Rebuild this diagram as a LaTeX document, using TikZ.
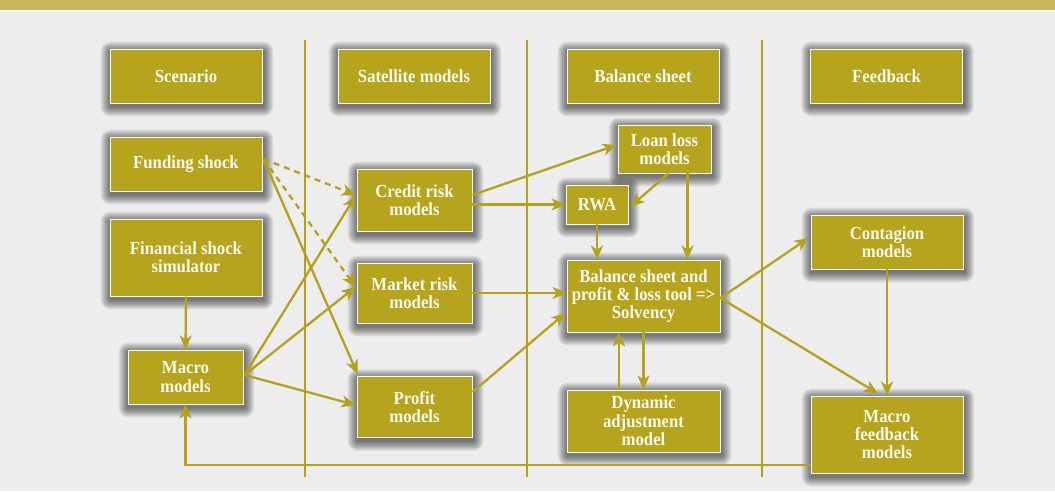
\documentclass[tikz,border=0pt]{standalone}
\usepackage{fontspec}
\setmainfont{Liberation Serif}[FakeStretch=0.91]
\usetikzlibrary{arrows.meta,calc}
\definecolor{gold}{RGB}{182,163,30}
\definecolor{goldline}{RGB}{181,161,32}
\definecolor{topbar}{RGB}{200,182,90}
\definecolor{bg}{RGB}{236,237,236}
\definecolor{txt}{RGB}{252,250,235}
\pgfdeclarelayer{bgl}\pgfdeclarelayer{shad}
\pgfsetlayers{bgl,shad,main}
\newcommand\boxshadow[1]{%
  \begin{pgfonlayer}{shad}
  \foreach \r in {1,...,10}{%
    \fill[black,fill opacity=0.062,rounded corners=\r pt]
      ($(#1.north west)+(1-\r,3-\r)$) rectangle ($(#1.south east)+(1+\r,3+\r)$);}
  \end{pgfonlayer}}
\begin{document}
\begin{tikzpicture}[x=1pt,y=-1pt,
  box/.style={draw=white,line width=0.9pt,fill=gold,inner sep=0pt,
    text=txt,align=center,
    font=\fontsize{18.4}{18.4}\selectfont\bfseries},
  arr/.style={draw=goldline,line width=2.3pt,-{Stealth[length=14pt,width=12pt,inset=4pt]}},
  dasharr/.style={arr,dash pattern=on 6pt off 5pt},
  sep/.style={draw=goldline,line width=2.3pt}]
\useasboundingbox (0,0) rectangle (1055,491);
\begin{pgfonlayer}{bgl}
\fill[bg] (0,0) rectangle (1055,491);
\fill[topbar] (0,0) rectangle (1055,10);
\fill[white] (0,10) rectangle (1055,12);
\end{pgfonlayer}
% separators
\coordinate (s1t) at (305,40); \coordinate (s1b) at (305,477);
\coordinate (s2t) at (527,40); \coordinate (s2b) at (527,477);
\coordinate (s3t) at (762,40); \coordinate (s3b) at (762,477);
\draw[sep] (s1t) -- (s1b);
\draw[sep] (s2t) -- (s2b);
\draw[sep] (s3t) -- (s3b);
% nodes
\node[box,minimum width=152pt,minimum height=54pt] (scen) at (186,76) {Scenario};
\node[box,minimum width=152pt,minimum height=54pt] (sat) at (414,76) {Satellite models};
\node[box,minimum width=152pt,minimum height=54pt] (bs) at (643,76) {Balance sheet};
\node[box,minimum width=152pt,minimum height=54pt] (fb) at (886.5,76) {Feedback};
\node[box,minimum width=152pt,minimum height=54pt] (fund) at (186,164) {Funding shock};
\node[box,minimum width=152pt,minimum height=77pt] (fin) at (186,257.5) {Financial shock\\simulator};
\node[box,minimum width=115pt,minimum height=54pt] (macro) at (185.5,377) {Macro\\models};
\node[box,minimum width=115pt,minimum height=62pt] (credit) at (414.5,200) {Credit risk\\models};
\node[box,minimum width=115pt,minimum height=60pt] (market) at (414.5,293) {Market risk\\models};
\node[box,minimum width=115pt,minimum height=61pt] (profit) at (414.5,407) {Profit\\models};
\node[box,minimum width=93pt,minimum height=48pt] (loan) at (664.5,149) {Loan loss\\models};
\node[box,minimum width=62pt,minimum height=39pt] (rwa) at (597,204.5) {RWA};
\node[box,minimum width=153pt,minimum height=72pt] (tool) at (643.5,296) {Balance sheet and\\profit \& loss tool =>\\Solvency};
\node[box,minimum width=153pt,minimum height=62pt] (dyn) at (643.5,421) {Dynamic\\adjustment\\model};
\node[box,minimum width=152pt,minimum height=54pt] (cont) at (887,242) {Contagion\\models};
\node[box,minimum width=152pt,minimum height=77pt] (mfb) at (887,434.5) {Macro\\feedback\\models};
\foreach \n in {scen,sat,bs,fb,fund,fin,macro,credit,market,profit,loan,rwa,tool,dyn,cont,mfb}{\boxshadow{\n}}
% connectors
\draw[dasharr] ($(fund.east)+(1,-5)$) -- ($(credit.west)+(-1,-5)$);
\draw[dasharr] ($(fund.east)+(1,-5)$) -- ($(market.west)+(-1,-6)$);
\draw[arr] ($(fund.east)+(1,-5)$) -- ($(profit.north west)+(1,-2)$);
\draw[arr] (fin.south) -- (macro.north);
\draw[arr] ($(macro.east)+(1,-2)$) -- ($(credit.west)+(-1,-4)$);
\draw[arr] ($(macro.east)+(1,-2)$) -- ($(market.west)+(-1,-6)$);
\draw[arr] ($(macro.east)+(1,-2)$) -- ($(profit.west)+(-1,-2)$);
\draw[arr] ($(credit.east)+(0,-5)$) -- ($(loan.west)+(-1,-4)$);
\draw[arr] (rwa.west -| credit.east) -- (rwa.west);
\draw[arr] ($(loan.south)+(4,0)$) -- ($(rwa.east)+(2,2)$);
\draw[arr] ($(loan.south)+(23,0)$) coordinate (l1) -- (l1 |- tool.north);
\draw[arr] (rwa.south) -- (rwa.south |- tool.north);
\draw[arr] (market.east) -- (market.east -| tool.west);
\draw[arr] ($(profit.east)+(0,-15)$) -- ($(tool.west)+(-1,17)$);
\draw[arr] ($(tool.east)+(0,2)$) -- ($(cont.west)+(-2,-4)$);
\draw[arr] ($(tool.east)+(0,2)$) -- ($(mfb.north)+(-9,-2)$);
\draw[arr] (cont.south) -- (mfb.north);
\draw[arr] ($(dyn.north)+(-24.5,0)$) coordinate (d1) -- (d1 |- tool.south);
\draw[arr] (tool.south) -- (dyn.north);
\draw[arr] ($(mfb.west)+(0,30.5)$) -| (macro.south);
\end{tikzpicture}
\end{document}
